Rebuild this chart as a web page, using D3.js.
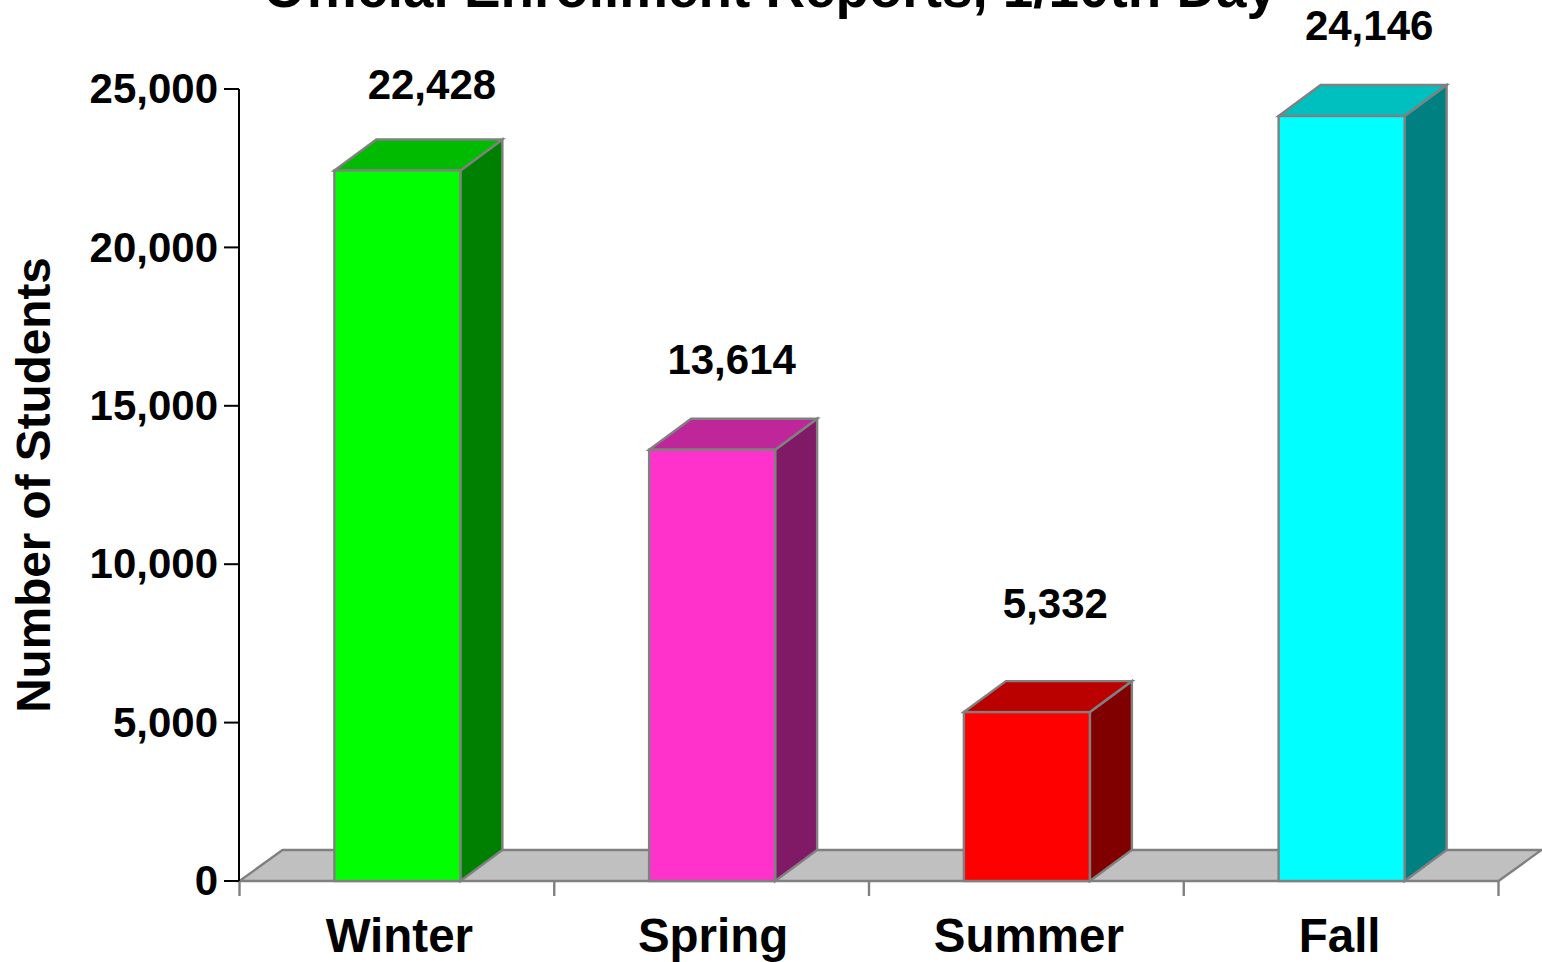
<!DOCTYPE html>
<html>
<head>
<meta charset="utf-8">
<script src="https://cdn.jsdelivr.net/npm/d3@7"></script>
<style>
html, body { margin: 0; padding: 0; background: #fff; }
svg { display: block; }
text { font-family: "Liberation Sans", Arial, sans-serif; font-weight: bold; fill: #000; }
</style>
</head>
<body>
<svg id="canvas" width="1542" height="962"></svg>
<script>
/************* Data **************/
var seasons = ["Winter", "Spring", "Summer", "Fall"];
var students = [22428, 13614, 5332, 24146];
var yTicks = [0, 5000, 10000, 15000, 20000, 25000];
var frontColors = ["#00ff00", "#ff33cc", "#ff0000", "#00ffff"];
var topColors = ["#00bb00", "#bf2699", "#bb0000", "#00bfbf"];
var sideColors = ["#008000", "#801a66", "#800000", "#008080"];

/********** Initialisation *********/
var svg = d3.select("#canvas");
var floorDepthX = 43, depthX = 42, depthY = 31;
var edge = "#808080";
var edgeWidth = 2.4;

var x = d3.scaleBand().domain(seasons).range([239.5, 1498.5]).paddingInner(0).paddingOuter(0);
var y = d3.scaleLinear().domain([0, 25000]).range([881, 89]);
var barWidth = 126;

// the labels sit by hand in the original, so each one has its own nudge
var labelNudgeX = [35, 20, 29, 28];
var labelNudgeY = [0, -5, -23, -5];
var seasonNudgeX = [2.5, 1.5, 2.5, -1.5];

function poly(points) {
    return points.map(function(p) { return p.join(","); }).join(" ");
}

/********** Title ***********/
svg.append("text")
    .attr("x", 770)
    .attr("y", 7)
    .attr("text-anchor", "middle")
    .attr("font-size", 54.8)
    .text("Official Enrollment Reports, 1/10th Day");

svg.append("text")
    .attr("transform", "translate(50,485) rotate(-90)")
    .attr("text-anchor", "middle")
    .attr("font-size", 47.7)
    .text("Number of Students");

/********** Floor ***********/
svg.append("polygon")
    .attr("points", poly([
        [x.range()[0], y(0)],
        [x.range()[0] + floorDepthX, y(0) - depthY],
        [x.range()[1] + floorDepthX, y(0) - depthY],
        [x.range()[1], y(0)]
    ]))
    .attr("fill", "#c0c0c0")
    .attr("stroke", edge)
    .attr("stroke-width", edgeWidth);

/********** Bars ***********/
var bars = svg.append("g")
    .selectAll("g")
    .data(seasons)
    .enter()
    .append("g");

function left(d) { return x(d) + (x.bandwidth() - barWidth) / 2 + 0.5; }
function top_(d, i) { return y(students[i]); }

bars.append("polygon")
    .attr("points", function(d, i) {
        var l = left(d), t = top_(d, i), r = l + barWidth;
        return poly([[r, y(0)], [r + depthX, y(0) - depthY], [r + depthX, t - depthY], [r, t]]);
    })
    .attr("fill", function(d, i) { return sideColors[i]; })
    .attr("stroke", edge)
    .attr("stroke-width", edgeWidth);

bars.append("polygon")
    .attr("points", function(d, i) {
        var l = left(d), t = top_(d, i), r = l + barWidth;
        return poly([[l, t], [l + depthX, t - depthY], [r + depthX, t - depthY], [r, t]]);
    })
    .attr("fill", function(d, i) { return topColors[i]; })
    .attr("stroke", edge)
    .attr("stroke-width", edgeWidth);

bars.append("rect")
    .attr("x", left)
    .attr("y", top_)
    .attr("width", barWidth)
    .attr("height", function(d, i) { return y(0) - y(students[i]); })
    .attr("fill", function(d, i) { return frontColors[i]; })
    .attr("stroke", edge)
    .attr("stroke-width", edgeWidth);

bars.append("text")
    .attr("x", function(d, i) { return x(d) + x.bandwidth() / 2 + labelNudgeX[i]; })
    .attr("y", function(d, i) { return y(students[i]) - depthY - 40 + labelNudgeY[i]; })
    .attr("text-anchor", "middle")
    .attr("font-size", 42)
    .text(function(d, i) { return d3.format(",")(students[i]); });

/********** Axes ***********/
var xAxis = d3.axisBottom(x).tickSize(0).tickPadding(32);
var gx = svg.append("g")
    .attr("transform", "translate(0," + y(0) + ")")
    .call(xAxis);
gx.select(".domain").remove();
gx.selectAll("text")
    .attr("font-size", 47.5)
    .attr("font-family", null)
    .attr("dy", "0.71em")
    .attr("dx", function(d, i) { return seasonNudgeX[i]; })
    .attr("y", 37);

// bottom axis is ticked at the band edges, not the centres
svg.append("g")
    .selectAll("line")
    .data(seasons.concat("end"))
    .enter()
    .append("line")
    .attr("x1", function(d, i) { return x.range()[0] + i * x.bandwidth(); })
    .attr("x2", function(d, i) { return x.range()[0] + i * x.bandwidth(); })
    .attr("y1", y(0))
    .attr("y2", y(0) + 15)
    .attr("stroke", edge)
    .attr("stroke-width", edgeWidth);

var yAxis = d3.axisLeft(y)
    .tickValues(yTicks)
    .tickFormat(d3.format(","))
    .tickSize(15)
    .tickPadding(6)
    .tickSizeOuter(0)
    .offset(0);
var gy = svg.append("g")
    .attr("transform", "translate(239,0)")
    .call(yAxis);
gy.selectAll(".domain, line").attr("stroke", "#000").attr("stroke-width", 2);
gy.selectAll("text")
    .attr("font-size", 42)
    .attr("font-family", null)
    .attr("y", 0.8);
</script>
</body>
</html>
